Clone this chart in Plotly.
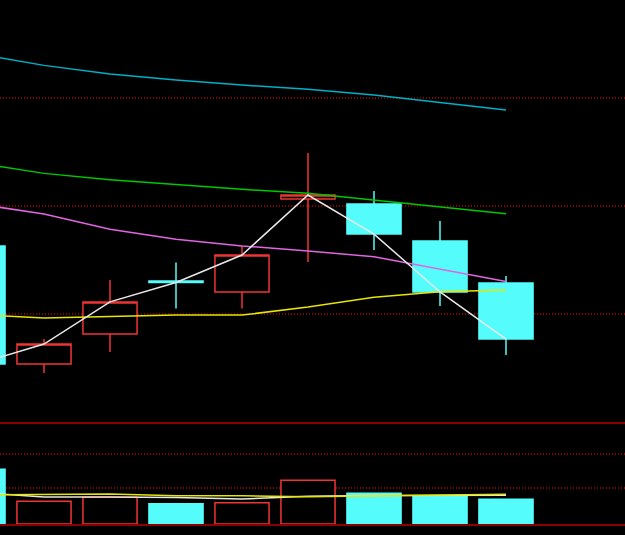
import plotly.graph_objects as go

# ---- data ----
idx = [0, 1, 2, 3, 4, 5, 6, 7, 8]
open_ = [10.815, 10.269, 10.407, 10.653, 10.602, 11.032, 11.009, 10.838, 10.644]
high = [10.860, 10.384, 10.657, 10.738, 10.815, 11.245, 11.069, 10.931, 10.676]
low = [10.220, 10.227, 10.324, 10.525, 10.525, 10.741, 10.796, 10.537, 10.310]
close = [10.269, 10.361, 10.556, 10.646, 10.773, 11.051, 10.870, 10.602, 10.384]

ma_teal = [11.704, 11.651, 11.611, 11.583, 11.560, 11.540, 11.514, 11.478, 11.444]
ma_green = [11.199, 11.151, 11.122, 11.100, 11.077, 11.059, 11.028, 10.997, 10.964]
ma_magenta = [11.009, 10.963, 10.892, 10.846, 10.815, 10.792, 10.765, 10.707, 10.650]
ma_yellow = [10.498, 10.481, 10.489, 10.495, 10.495, 10.532, 10.577, 10.603, 10.611]

volume = [54700, 22700, 26700, 20300, 21300, 43700, 30700, 28300, 24700]
vol_ma_white = [31500, 27000, 27000, 26500, 25000, 27700, 28500, 28700, 28700]
vol_ma_yellow = [29000, 29500, 30000, 28300, 28300, 27300, 28300, 28700, 29700]

price_grid = [10.5, 11.0, 11.5]
vol_grid = [36000, 70000]

RED = "#F03434"
CYAN = "#54FCFC"
GRID = "#8B0000"

fig = go.Figure()

fig.add_trace(go.Candlestick(
    x=idx, open=open_, high=high, low=low, close=close,
    increasing=dict(line=dict(color=RED, width=1.5), fillcolor="black"),
    decreasing=dict(line=dict(color=CYAN, width=1.5), fillcolor=CYAN),
    xaxis="x", yaxis="y", showlegend=False,
))

for vals, col in [(ma_teal, "#00B0C8"), (ma_green, "#00C800"),
                  (ma_magenta, "#E066E0"), (ma_yellow, "#E6E600"),
                  (close, "#E8E8E8")]:
    fig.add_trace(go.Scatter(x=idx, y=vals, mode="lines",
                             line=dict(color=col, width=1.5),
                             xaxis="x", yaxis="y", showlegend=False))

bar_fill = ["black" if c >= o else CYAN for o, c in zip(open_, close)]
bar_line = [RED if c >= o else CYAN for o, c in zip(open_, close)]
fig.add_trace(go.Bar(x=idx, y=volume, width=0.82,
                     marker=dict(color=bar_fill, line=dict(color=bar_line, width=1.5)),
                     xaxis="x2", yaxis="y2", showlegend=False))
fig.add_trace(go.Scatter(x=idx, y=vol_ma_white, mode="lines",
                         line=dict(color="#E8E8E8", width=1.5),
                         xaxis="x2", yaxis="y2", showlegend=False))
fig.add_trace(go.Scatter(x=idx, y=vol_ma_yellow, mode="lines",
                         line=dict(color="#E6E600", width=1.5),
                         xaxis="x2", yaxis="y2", showlegend=False))

xr = [22 / 66, 647 / 66]
fig.update_layout(
    width=625, height=535,
    margin=dict(l=0, r=0, t=0, b=0),
    paper_bgcolor="black", plot_bgcolor="black",
    boxgap=0.18, boxgroupgap=0,
    hovermode=False,
    xaxis=dict(domain=[0, 1], range=xr, anchor="y", showgrid=False,
               showticklabels=False, zeroline=False, showline=True,
               linecolor=GRID, linewidth=1.5, rangeslider=dict(visible=False)),
    yaxis=dict(domain=[113 / 535, 1], range=[10.0, 10 + 422 / 216],
               tickvals=price_grid, showticklabels=False, zeroline=False,
               gridcolor=GRID, griddash="1px,2px", gridwidth=1.5),
    xaxis2=dict(domain=[0, 1], range=xr, anchor="y2", matches="x", showgrid=False,
                showticklabels=False, zeroline=False, showline=True,
                linecolor=GRID, linewidth=1.5),
    yaxis2=dict(domain=[11 / 535, 113 / 535], range=[0, 102000],
                tickvals=vol_grid, showticklabels=False, zeroline=False,
                gridcolor=GRID, griddash="1px,2px", gridwidth=1.5),
)

fig.write_html(
    "out.html",
    config={"displayModeBar": False},
    post_script="document.body.style.margin='0';document.body.style.overflow='hidden';"
                "document.body.style.background='black';",
)
